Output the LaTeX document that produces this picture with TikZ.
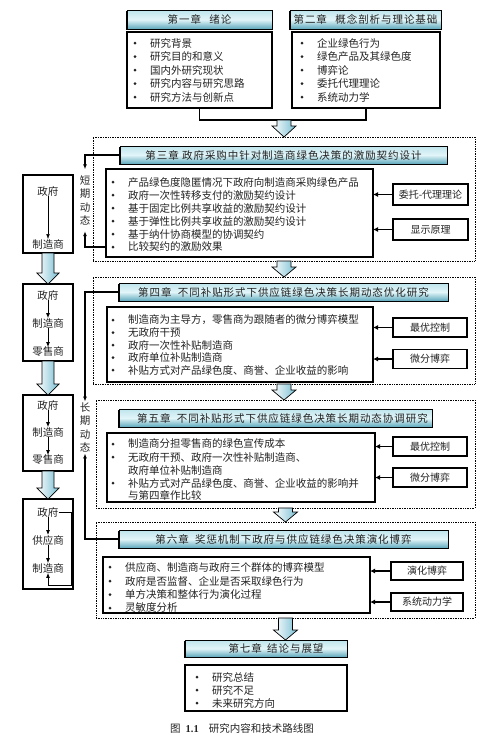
\documentclass[tikz,border=0pt]{standalone}
\usepackage{fontspec}
\setmainfont{Noto Sans CJK SC}
\newfontfamily\ttl{Noto Sans CJK SC}[LetterSpace=9]
\newfontfamily\latinb{Liberation Serif}
\usetikzlibrary{arrows.meta,shadows,calc}
\definecolor{tt}{RGB}{190,228,236}
\definecolor{tm}{RGB}{226,245,248}
\definecolor{tb}{RGB}{92,168,188}
\definecolor{ac}{RGB}{120,190,210}
\definecolor{txt}{RGB}{35,35,35}
\newcommand\itm[4]{\node[item] (#1) at (#2,#3) {#4};
 \fill[txt] ($(#1.west)+(-15pt,0pt)$) circle (1.5pt);}
\newcommand\blk[5]{%
 \path[blkarrow] let \p1=(#1), \p2=(#2) in
 (\x1-#3pt,\y1) -- (\x1+#3pt,\y1) -- (\x1+#3pt,\y2+#5pt) -- (\x1+#4pt,\y2+#5pt)
 -- (\x1,\y2) -- (\x1-#4pt,\y2+#5pt) -- (\x1-#3pt,\y2+#5pt) -- cycle;}
\tikzset{
 base/.style={inner sep=0pt, outer sep=0pt, text=txt},
 titlebox/.style={base, draw=black, line width=0.8pt, top color=tt, bottom color=tb, middle color=tm,
   general shadow={fill=black, shadow xshift=-1pt, shadow yshift=-1.3pt}, font=\ttl\fontsize{10.5}{12}\selectfont},
 listbox/.style={base, draw=black, line width=1.5pt, fill=white},
 thbox/.style={base, draw=black, line width=1.2pt, fill=white, font=\fontsize{10}{12}\selectfont,
   general shadow={fill=black, shadow xshift=-0.8pt, shadow yshift=-0.8pt}},
 sidebox/.style={base, draw=black, line width=1.4pt, fill=white},
 dotbox/.style={base, draw=black, line width=0.7pt, dash pattern=on 0.8pt off 0.9pt},
 item/.style={base, anchor=west, font=\fontsize{10.5}{13}\selectfont},
 sidetxt/.style={base, font=\fontsize{10.5}{13}\selectfont},
 vtxt/.style={base, align=center, font=\fontsize{10.5}{13.5}\selectfont},
 conn/.style={draw=black, line width=1.1pt, -{Latex[length=5pt,width=4pt]}},
 tharr/.style={draw=black, line width=1.8pt, -{Latex[length=5pt,width=5pt]}},
 inarr/.style={draw=black, line width=0.9pt, -{Latex[length=5pt,width=4pt]}},
 thinarr/.style={draw=black, line width=0.5pt, -{Latex[length=5pt,width=3.5pt]}},
 blkarrow/.style={draw=black, line width=0.7pt, left color=white, right color=ac},
 bracket/.style={draw=black, line width=1.2pt},
}
\begin{document}
\begin{tikzpicture}[x=1pt,y=-1pt]
\useasboundingbox (0,0) rectangle (489,740);

% dotted frames
\node[dotbox, minimum width=382, minimum height=124] (db1) at (284,199) {};
\node[dotbox, minimum width=382, minimum height=107] (db2) at (284,330.5) {};
\node[dotbox, minimum width=379, minimum height=108] (db3) at (285.5,454) {};
\node[dotbox, minimum width=379, minimum height=96] (db4) at (285.5,570) {};

% chapter 1 and 2
\node[titlebox, minimum width=145, minimum height=19] (t1) at (199.5,19.5) {第一章\hspace{0.8em}绪论};
\node[titlebox, minimum width=151, minimum height=19] (t2) at (365.5,19.5) {第二章\hspace{0.8em}概念剖析与理论基础};
\node[listbox, minimum width=145, minimum height=76] (l1box) at (199.5,70) {};
\node[listbox, minimum width=148, minimum height=76] (l2box) at (366,70) {};
\itm{l1-1}{150}{43}{研究背景}
\itm{l1-2}{150}{56.5}{研究目的和意义}
\itm{l1-3}{150}{70}{国内外研究现状}
\itm{l1-4}{150}{83.5}{研究内容与研究思路}
\itm{l1-5}{150}{97}{研究方法与创新点}
\itm{l2-1}{317}{43}{企业绿色行为}
\itm{l2-2}{317}{56.5}{绿色产品及其绿色度}
\itm{l2-3}{317}{70}{博弈论}
\itm{l2-4}{317}{83.5}{委托代理理论}
\itm{l2-5}{317}{97}{系统动力学}
\coordinate (br) at (284,120);
\draw[bracket] (l1box.south) |- (br) -| (l2box.south);
\blk{br}{db1.north}{7}{12}{11}

% chapter 3
\node[titlebox, minimum width=327, minimum height=18] (t3) at (283.5,155) {第三章 政府采购中针对制造商绿色决策的激励契约设计};
\node[listbox, minimum width=267, minimum height=88] (l3box) at (239.5,213) {};
\itm{l3-1}{128}{182}{产品绿色度隐匿情况下政府向制造商采购绿色产品}
\itm{l3-2}{128}{195}{政府一次性转移支付的激励契约设计}
\itm{l3-3}{128}{208}{基于固定比例共享收益的激励契约设计}
\itm{l3-4}{128}{221}{基于弹性比例共享收益的激励契约设计}
\itm{l3-5}{128}{234}{基于纳什协商模型的协调契约}
\itm{l3-6}{128}{247}{比较契约的激励效果}
\node[thbox, minimum width=75, minimum height=21] (th3a) at (430.5,194.5) {委托-代理理论};
\node[thbox, minimum width=75, minimum height=21] (th3b) at (430.5,229.5) {显示原理};
\draw[tharr] (th3a.west) -- (th3a.west -| l3box.east);
\draw[tharr] (th3b.west) -- (th3b.west -| l3box.east);
\blk{db1.south}{db2.north}{7}{12}{10}

% chapter 4
\node[titlebox, minimum width=329, minimum height=18] (t4) at (283.5,292) {第四章\hspace{0.6em}不同补贴形式下供应链绿色决策长期动态优化研究};
\node[listbox, minimum width=266, minimum height=75] (l4box) at (240,344.5) {};
\itm{l4-1}{128}{320}{制造商为主导方，零售商为跟随者的微分博弈模型}
\itm{l4-2}{128}{332.5}{无政府干预}
\itm{l4-3}{128}{345}{政府一次性补贴制造商}
\itm{l4-4}{128}{357.5}{政府单位补贴制造商}
\itm{l4-5}{128}{370}{补贴方式对产品绿色度、商誉、企业收益的影响}
\node[thbox, minimum width=74, minimum height=19] (th4a) at (430,327.5) {最优控制};
\node[thbox, minimum width=74, minimum height=19] (th4b) at (430,359) {微分博弈};
\draw[tharr] (th4a.west) -- (th4a.west -| l4box.east);
\draw[tharr] (th4b.west) -- (th4b.west -| l4box.east);
\blk{db2.south}{db3.north}{7}{12}{10}

% chapter 5
\node[titlebox, minimum width=313, minimum height=18] (t5) at (275.5,418) {\hspace{14pt}第五章\hspace{0.6em}不同补贴形式下供应链绿色决策长期动态协调研究};
\node[listbox, minimum width=268, minimum height=69] (l5box) at (241,467.5) {};
\itm{l5-1}{128}{444}{制造商分担零售商的绿色宣传成本}
\itm{l5-2}{128}{457}{无政府干预、政府一次性补贴制造商、}
\node[item] (l5-2b) at (128,470) {政府单位补贴制造商};
\itm{l5-3}{128}{483}{补贴方式对产品绿色度、商誉、企业收益的影响并}
\node[item] (l5-3b) at (128,495.5) {与第四章作比较};
\node[thbox, minimum width=74, minimum height=19] (th5a) at (430,446.5) {最优控制};
\node[thbox, minimum width=74, minimum height=19] (th5b) at (430,477.5) {微分博弈};
\draw[tharr] (th5a.west) -- (th5a.west -| l5box.east);
\draw[tharr] (th5b.west) -- (th5b.west -| l5box.east);
\blk{db3.south}{db4.north}{7}{12}{10}

% chapter 6
\node[titlebox, minimum width=329, minimum height=18] (t6) at (283.5,539) {第六章\hspace{0.6em}奖惩机制下政府与供应链绿色决策演化博弈};
\node[listbox, minimum width=267, minimum height=56] (l6box) at (236.5,585) {};
\itm{l6-1}{125}{567}{供应商、制造商与政府三个群体的博弈模型}
\itm{l6-2}{125}{581}{政府是否监督、企业是否采取绿色行为}
\itm{l6-3}{125}{594.5}{单方决策和整体行为演化过程}
\itm{l6-4}{125}{608}{灵敏度分析}
\node[thbox, minimum width=72, minimum height=18] (th6a) at (427,571) {演化博弈};
\node[thbox, minimum width=72, minimum height=18] (th6b) at (427,602) {系统动力学};
\draw[tharr] (th6a.west) -- (th6a.west -| l6box.east);
\draw[tharr] (th6b.west) -- (th6b.west -| l6box.east);

% chapter 7
\node[titlebox, minimum width=162, minimum height=17] (t7) at (266,648.5) {\hspace{20pt}第七章\hspace{0.5em}结论与展望};
\node[listbox, minimum width=162, minimum height=46] (l7box) at (266,688) {};
\itm{l7-1}{212}{677}{研究总结}
\itm{l7-2}{212}{690}{研究不足}
\itm{l7-3}{212}{703}{未来研究方向}
\blk{db4.south}{t7.north}{7}{12}{10}

% caption
\node[base, font=\fontsize{10.5}{12}\selectfont] (cap) at (242,728) {图\hspace{5pt}{\latinb\bfseries 1.1}\hspace{10pt}研究内容和技术路线图};

% short / long term labels and connectors
\node[vtxt, inner ysep=6pt] (sdq) at (85,200.25) {短\\期\\动\\态};
\node[vtxt, inner ysep=1pt] (ldq) at (85,427.5) {长\\期\\动\\态};
\draw[conn] (t3.west) -| (sdq.north);
\draw[conn] (l3-6 -| l3box.west) -| (sdq.south);
\draw[conn] (t4.west) -| (ldq.north);
\draw[conn] (t6.west) -| (ldq.south);

% left column
\node[sidebox, minimum width=50, minimum height=78] (sA) at (48,214) {};
\node[sidebox, minimum width=50, minimum height=77] (sB) at (48,322.5) {};
\node[sidebox, minimum width=50, minimum height=76] (sC) at (48,433) {};
\node[sidebox, minimum width=50, minimum height=90] (sD) at (48,544) {};
\node[sidetxt] (a1) at (48,191) {政府};
\node[sidetxt] (a2) at (48,244) {制造商};
\draw[thinarr] (a1.south) -- (a2.north);
\node[sidetxt] (b1) at (48,295) {政府};
\node[sidetxt] (b2) at (48,323) {制造商};
\node[sidetxt] (b3) at (48,352) {零售商};
\draw[inarr] (b1.south) -- (b2.north);
\draw[inarr] (b2.south) -- (b3.north);
\node[sidetxt] (c1) at (48,405) {政府};
\node[sidetxt] (c2) at (48,432) {制造商};
\node[sidetxt] (c3) at (48,460) {零售商};
\draw[inarr] (c1.south) -- (c2.north);
\draw[inarr] (c2.south) -- (c3.north);
\node[sidetxt] (d1) at (48,512) {政府};
\node[sidetxt] (d2) at (48,540) {供应商};
\node[sidetxt] (d3) at (48,568) {制造商};
\draw[inarr] (d1.south) -- (d2.north);
\draw[inarr] (d2.south) -- (d3.north);
\coordinate (fb) at (71,585);
\draw[inarr] (d1.east) -| (fb) -| (d3.south);
\blk{sA.south}{sB.north}{6}{11}{11}
\blk{sB.south}{sC.north}{6}{11}{11}
\blk{sC.south}{sD.north}{6}{11}{11}
\end{tikzpicture}
\end{document}
